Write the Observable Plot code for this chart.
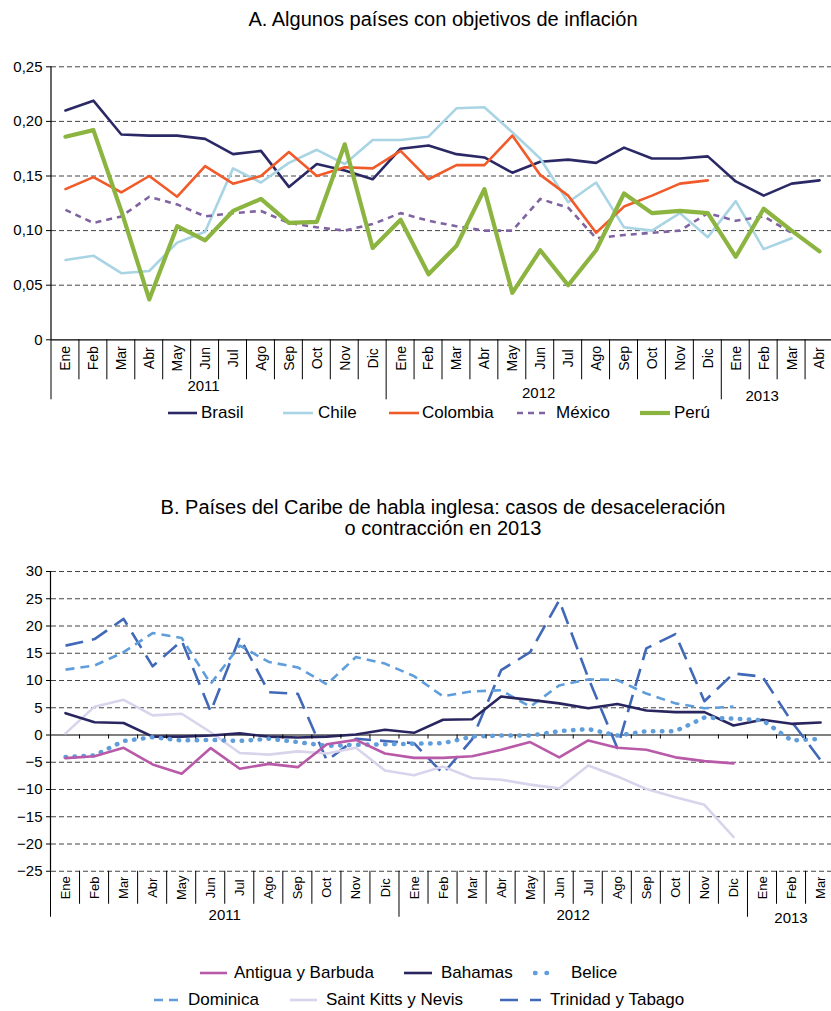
<!DOCTYPE html>
<html><head><meta charset="utf-8">
<script src="https://cdn.jsdelivr.net/npm/d3@7"></script>
<script src="https://cdn.jsdelivr.net/npm/@observablehq/plot@0.6"></script>
<style>
body{margin:0;background:#fff;}
#page{position:relative;width:831px;height:1011px;overflow:hidden;font-family:'Liberation Sans',Arial,Helvetica,sans-serif;color:#000;}
.abs{position:absolute;}
.title{left:0;width:886px;text-align:center;font-size:20px;line-height:21px;}
.leg{position:absolute;font-size:17px;line-height:20px;white-space:nowrap;}
</style></head>
<body><div id="page">
<div class="abs title" style="top:9px">A. Algunos países con objetivos de inflación</div>
<div id="chartA" class="abs" style="top:50px;left:0"></div>
<div class="abs title" style="top:497px">B. Países del Caribe de habla inglesa: casos de desaceleración<br>o contracción en 2013</div>
<div id="chartB" class="abs" style="top:540px;left:0"></div>
</div>
<script>
// ---------- data ----------
const months = ["Ene","Feb","Mar","Abr","May","Jun","Jul","Ago","Sep","Oct","Nov","Dic"];
const years = ["2011","2012","2013"];
const monthsA = [...months, ...months, "Ene","Feb","Mar","Abr"];
const monthsB = [...months, ...months, "Ene","Feb","Mar"];
const ticksA = [0, 0.05, 0.10, 0.15, 0.20, 0.25];
const ticksB = [30, 25, 20, 15, 10, 5, 0, -5, -10, -15, -20, -25];

const brasil   = [0.210,0.219,0.188,0.187,0.187,0.184,0.170,0.173,0.140,0.161,0.155,0.147,0.175,0.178,0.170,0.167,0.153,0.163,0.165,0.162,0.176,0.166,0.166,0.168,0.145,0.132,0.143,0.146];
const chile    = [0.073,0.077,0.061,0.063,0.089,0.099,0.157,0.144,0.162,0.174,0.161,0.183,0.183,0.186,0.212,0.213,0.190,0.166,0.126,0.144,0.103,0.100,0.116,0.094,0.127,0.083,0.093,null];
const colombia = [0.138,0.149,0.135,0.150,0.131,0.159,0.143,0.150,0.172,0.150,0.158,0.157,0.173,0.147,0.160,0.160,0.187,0.151,0.132,0.098,0.122,0.132,0.143,0.146,null,null,null,null];
const mexico   = [0.119,0.107,0.113,0.131,0.124,0.113,0.116,0.118,0.107,0.103,0.100,0.106,0.116,0.109,0.104,0.100,0.100,0.129,0.121,0.093,0.096,0.098,0.100,0.116,0.109,0.113,0.098,null];
const peru     = [0.186,0.192,0.118,0.037,0.104,0.091,0.118,0.129,0.107,0.108,0.179,0.084,0.110,0.060,0.086,0.138,0.043,0.082,0.050,0.082,0.134,0.116,0.118,0.116,0.076,0.120,0.100,0.081];

const antigua    = [-4.25,-3.9,-2.35,-5.4,-7.1,-2.4,-6.2,-5.3,-5.9,-1.7,-0.9,-3.4,-4.2,-4.2,-3.9,-2.7,-1.3,-4.1,-1.0,-2.35,-2.7,-4.1,-4.8,-5.2,null,null,null];
const bahamas    = [4.0,2.35,2.2,-0.3,-0.3,-0.1,0.3,-0.3,-0.45,-0.3,0.1,0.95,0.4,2.8,2.9,7.05,6.45,5.8,4.9,5.7,4.5,4.2,4.2,1.75,2.8,2.05,2.3];
const belice     = [-4.05,-3.75,-1.1,-0.4,-1.0,-0.9,-1.1,-0.7,-1.3,-2.0,-1.8,-1.7,-1.6,-1.5,-0.3,-0.1,-0.1,0.7,1.1,-0.1,0.7,0.7,3.2,3.0,2.7,-1.0,-0.7];
const dominica   = [12.0,12.75,15.2,18.7,17.8,9.4,16.4,13.4,12.4,9.3,14.3,13.1,10.8,7.1,8.0,8.2,5.2,9.1,10.2,10.1,7.6,5.8,4.9,5.2,null,null,null];
const saintKitts = [0.3,5.2,6.45,3.6,3.9,0.5,-3.3,-3.6,-3.0,-3.4,-2.35,-6.5,-7.4,-5.8,-7.9,-8.2,-9.1,-9.8,-5.6,-7.6,-9.9,-11.4,-12.8,-18.7,null,null,null];
const trinidad   = [16.4,17.6,21.3,12.6,17.3,4.3,17.9,7.85,7.55,-4.7,-0.7,-1.1,-1.5,-7.1,-0.8,11.9,15.2,24.7,10.5,-2.4,15.9,18.5,6.2,11.3,10.7,2.5,-4.6];

// ---------- styles ----------
const FONT = "'Liberation Sans', Arial, Helvetica, sans-serif";
const seriesA = [
  {name:"Brasil",   vals:brasil,   stroke:"#2b2866", w:2.6},
  {name:"Chile",    vals:chile,    stroke:"#a9d4e4", w:2.6},
  {name:"Colombia", vals:colombia, stroke:"#f15a29", w:2.6},
  {name:"México",   vals:mexico,   stroke:"#8064a2", w:2.6, dash:"6,5"},
  {name:"Perú",     vals:peru,     stroke:"#8cb440", w:4.2}
];
const seriesB = [
  {name:"Trinidad y Tabago", vals:trinidad,   stroke:"#4169b8", w:2.6, dash:"18,9"},
  {name:"Dominica",          vals:dominica,   stroke:"#5f9ddb", w:2.6, dash:"9,6"},
  {name:"Saint Kitts y Nevis", vals:saintKitts, stroke:"#d9d4ec", w:2.6},
  {name:"Bahamas",           vals:bahamas,    stroke:"#29265f", w:2.6},
  {name:"Belice",            vals:belice,     stroke:"#5f9ddb", w:4.5, dash:"0.5,8.5", cap:"round"},
  {name:"Antigua y Barbuda", vals:antigua,    stroke:"#b85aa8", w:2.6}
];

function lineOf(s) {
  const idx = d3.range(s.vals.length).filter(i => s.vals[i] != null);
  return Plot.line(idx, {x: i => i, y: i => s.vals[i], stroke: s.stroke, strokeWidth: s.w,
    strokeDasharray: s.dash, strokeLinecap: s.cap || (s.dash ? "butt" : "round"), strokeLinejoin: "round"});
}

// custom category axis drawn with the plot's own scales
function catAxis(o) {
  return (index, scales) => {
    const x = scales.x, y = scales.y;
    const bw = x(1) - x(0);
    const y0 = y(o.base);
    const g = d3.create("svg:g").attr("font-family", FONT).attr("fill", "#000");
    g.append("line").attr("x1", x(0)).attr("x2", x(0)).attr("y1", y(o.top)).attr("y2", y0)
      .attr("stroke", "#000").attr("stroke-width", 1.2);
    o.labels.forEach((lab, i) => {
      const xl = x(i);
      const isYear = i % 12 === 0;
      g.append("line").attr("x1", xl).attr("x2", xl).attr("y1", y0)
        .attr("y2", y0 + (isYear ? o.yearSep : o.sep)).attr("stroke", "#000").attr("stroke-width", 1);
      g.append("text").attr("transform", `translate(${xl + bw/2 + 0.5},${y0 + o.labDy}) rotate(-90)`)
        .attr("text-anchor", "middle").attr("dy", "0.35em").attr("font-size", o.labSize).text(lab);
    });
    if (o.zeroTicks) {
      o.labels.forEach((lab, i) => {
        if (i === 0) return;
        const xl = x(i);
        g.append("line").attr("x1", xl).attr("x2", xl).attr("y1", y(0)).attr("y2", y(0) + 4)
          .attr("stroke", "#000").attr("stroke-width", 1);
      });
    }
    years.forEach((yr, k) => {
      const i0 = k * 12, i1 = Math.min(o.labels.length, i0 + 12);
      const cx = (x(i0) + x(i1 - 1) + bw) / 2 + o.yearDx;
      g.append("text").attr("x", cx).attr("y", y0 + o.yearDy[k]).attr("text-anchor", "middle")
        .attr("dy", "0.35em").attr("font-size", o.yearSize).text(yr);
    });
    return g.node();
  };
}

// ---------- panel A ----------
const fmtA = d => d === 0 ? "0" : d.toFixed(2).replace(".", ",");
const chartA = Plot.plot({
  width: 831, height: 360, marginLeft: 51, marginRight: 0, marginTop: 16, marginBottom: 71,
  style: {fontFamily: FONT, fontSize: "15px", color: "#000", background: "transparent", overflow: "visible"},
  x: {type: "band", domain: d3.range(monthsA.length), range: [51, 833], padding: 0, round: false, axis: null},
  y: {domain: [0, 0.25], range: [289.3, 16.3], ticks: ticksA, tickFormat: fmtA, tickSize: 5, tickPadding: 4, label: null},
  marks: [
    Plot.ruleY(ticksA.filter(d => d !== 0), {stroke: "#444", strokeDasharray: "5,3", strokeWidth: 1}),
    Plot.ruleY([0], {stroke: "#000", strokeWidth: 1.2}),
    ...seriesA.map(lineOf),
    catAxis({labels: monthsA, base: 0, top: 0.25, labDy: 19, labSize: 14, sep: 40, yearSep: 60,
             yearDy: [46, 53, 56], yearDx: -15, yearSize: 15, zeroTicks: false})
  ]
});
document.getElementById("chartA").appendChild(chartA);

// ---------- panel B ----------
const chartB = Plot.plot({
  width: 831, height: 390, marginLeft: 51, marginRight: 0, marginTop: 31, marginBottom: 58,
  style: {fontFamily: FONT, fontSize: "15px", color: "#000", background: "transparent", overflow: "visible"},
  x: {type: "band", domain: d3.range(monthsB.length), range: [50.5, 834.6], padding: 0, round: false, axis: null},
  y: {domain: [-25, 30], range: [330.75, 31], ticks: ticksB, tickSize: 5, tickPadding: 4, label: null},
  marks: [
    Plot.ruleY(ticksB.filter(d => d !== 0), {stroke: "#444", strokeDasharray: "5,3", strokeWidth: 1}),
    Plot.ruleY([0], {stroke: "#000", strokeWidth: 1.2}),
    ...seriesB.map(lineOf),
    catAxis({labels: monthsB, base: -25, top: 30, labDy: 17, labSize: 13, sep: 33, yearSep: 46,
             yearDy: [44, 44, 47], yearDx: 0, yearSize: 15, zeroTicks: true})
  ]
});
document.getElementById("chartB").appendChild(chartB);

// ---------- legends ----------
const page = document.getElementById("page");
function legendItem(s, cy, sx0, sx1, tx) {
  const svg = d3.create("svg").attr("width", sx1 - sx0 + 4).attr("height", 10)
    .style("position", "absolute").style("left", (sx0 - 2) + "px").style("top", (cy - 5) + "px");
  svg.append("line").attr("x1", 2).attr("x2", sx1 - sx0 + 2).attr("y1", 5).attr("y2", 5)
    .attr("stroke", s.stroke).attr("stroke-width", Math.min(s.w, 4.5))
    .attr("stroke-dasharray", s.dash || null).attr("stroke-linecap", s.cap || "butt");
  page.appendChild(svg.node());
  const t = document.createElement("div");
  t.className = "leg"; t.textContent = s.name;
  t.style.left = tx + "px"; t.style.top = (cy - 10) + "px";
  page.appendChild(t);
}
const sA = Object.fromEntries(seriesA.map(s => [s.name, s]));
legendItem(sA["Brasil"], 413, 168, 197, 201);
legendItem(sA["Chile"], 413, 283, 313, 318);
legendItem(sA["Colombia"], 413, 389, 419, 422);
legendItem(sA["México"], 413, 517, 546, 556);
legendItem(sA["Perú"], 413, 640, 670, 674);
const sB = Object.fromEntries(seriesB.map(s => [s.name, s]));
legendItem(sB["Antigua y Barbuda"], 973, 200, 227, 234);
legendItem(sB["Bahamas"], 973, 404, 432, 441);
legendItem({...sB["Belice"], dash: "0.5,11"}, 973, 535, 550, 571);
legendItem(sB["Dominica"], 1000, 154, 183, 188);
legendItem(sB["Saint Kitts y Nevis"], 1000, 290, 317, 326);
legendItem({...sB["Trinidad y Tabago"], dash: "18,12"}, 1000, 500, 541, 550);
</script>
</body></html>
